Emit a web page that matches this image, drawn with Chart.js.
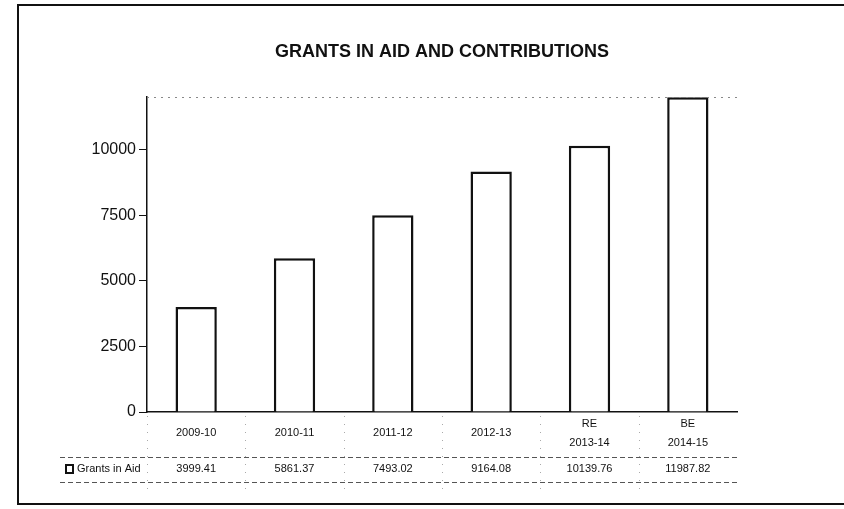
<!DOCTYPE html>
<html>
<head>
<meta charset="utf-8">
<script src="https://cdn.jsdelivr.net/npm/chart.js@4/dist/chart.umd.min.js"></script>
<style>
  html, body { margin: 0; padding: 0; background: #fff; }
  #wrap { width: 844px; height: 509px; }
</style>
</head>
<body>
<div id="wrap"><canvas id="grantsChart" width="844" height="509"></canvas></div>
<script>
const years = ["2009-10", "2010-11", "2011-12", "2012-13", "2013-14", "2014-15"];
const prefixes = ["", "", "", "", "RE", "BE"];
const grants = [3999.41, 5861.37, 7493.02, 9164.08, 10139.76, 11987.82];
const yTicks = [0, 2500, 5000, 7500, 10000];
const seriesName = "Grants in Aid";
const chartTitle = "GRANTS IN AID AND CONTRIBUTIONS";

const labels = years.map((y, i) => prefixes[i] ? [prefixes[i], y] : y);

// frame, title, dotted top line and the data table under the axis
const tablePlugin = {
    id: "dataTable",
    afterDraw(chart) {
        const ctx = chart.ctx;
        const xs = chart.scales.x;
        const area = chart.chartArea;
        ctx.save();

        // outer frame
        ctx.strokeStyle = "#111";
        ctx.lineWidth = 2;
        ctx.beginPath();
        ctx.moveTo(844, 5);
        ctx.lineTo(18, 5);
        ctx.lineTo(18, 504);
        ctx.lineTo(844, 504);
        ctx.stroke();

        // title
        ctx.fillStyle = "#111";
        ctx.font = "bold 18px 'Liberation Sans', Arial, sans-serif";
        ctx.textAlign = "center";
        ctx.textBaseline = "middle";
        ctx.fillText(chartTitle, 442, 52);

        // faint dotted top of plot
        ctx.strokeStyle = "#888";
        ctx.lineWidth = 1;
        ctx.setLineDash([2, 5]);
        ctx.beginPath();
        ctx.moveTo(area.left, area.top + 0.5);
        ctx.lineTo(area.right, area.top + 0.5);
        ctx.stroke();

        // table row separators
        ctx.strokeStyle = "#555";
        ctx.setLineDash([5, 3]);
        [457, 482].forEach(y => {
            ctx.beginPath();
            ctx.moveTo(60, y + 0.5);
            ctx.lineTo(area.right, y + 0.5);
            ctx.stroke();
        });
        ctx.strokeStyle = "#aaa";
        ctx.setLineDash([1, 7]);
        const step = (area.right - area.left) / years.length;
        for (let k = 0; k < years.length; k++) {
            const x = Math.round(area.left + step * k) + 0.5;
            ctx.beginPath();
            ctx.moveTo(x, area.bottom + 4);
            ctx.lineTo(x, 490);
            ctx.stroke();
        }
        ctx.setLineDash([]);

        ctx.fillStyle = "#111";
        ctx.font = "11px 'Liberation Sans', Arial, sans-serif";
        years.forEach((y, i) => {
            const x = xs.getPixelForValue(i);
            if (prefixes[i]) {
                ctx.fillText(prefixes[i], x, 424);
                ctx.fillText(y, x, 443);
            } else {
                ctx.fillText(y, x, 433);
            }
            ctx.fillText(grants[i].toFixed(2), x, 469);
        });

        // legend key
        ctx.lineWidth = 2;
        ctx.strokeStyle = "#111";
        ctx.strokeRect(66, 465, 7, 8);
        ctx.textAlign = "left";
        ctx.fillText(seriesName, 77, 469);
        ctx.restore();
    }
};

new Chart(document.getElementById("grantsChart"), {
    type: "bar",
    data: {
        labels: labels,
        datasets: [
            {
                label: seriesName,
                data: grants,
                backgroundColor: "#ffffff",
                borderColor: "#111111",
                borderWidth: 2.5,
                categoryPercentage: 1,
                barPercentage: 0.42,
            },
        ],
    },
    options: {
        responsive: false,
        animation: false,
        layout: { padding: { left: 0, right: 107, top: 97, bottom: 0 } },
        plugins: {
            legend: { display: false },
            tooltip: { enabled: false },
        },
        scales: {
            x: {
                grid: { display: false },
                border: { color: "#111", width: 1.5 },
                ticks: { display: false },
                afterFit(scale) { scale.height = 97; },
            },
            y: {
                min: 0,
                max: 12000,
                afterBuildTicks(scale) { scale.ticks = yTicks.map(v => ({ value: v })); },
                afterFit(scale) { scale.width = 147; },
                grid: { drawOnChartArea: false, tickLength: 8, color: "#111" },
                border: { color: "#111", width: 1.5 },
                ticks: {
                    color: "#111",
                    padding: 3,
                    font: { family: "'Liberation Sans', Arial, sans-serif", size: 16 },
                    callback: (v) => String(v),
                },
            },
        },
    },
    plugins: [tablePlugin],
});
</script>
</body>
</html>
